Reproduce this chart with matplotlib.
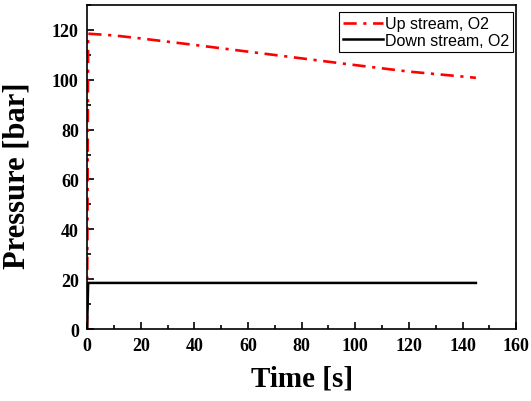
import matplotlib
matplotlib.use('Agg')
import matplotlib.pyplot as plt
from matplotlib.ticker import MultipleLocator

# Up stream pressure (O2)
t_up = [0, 0.4, 10, 20, 40, 60, 80, 100, 120, 145]
p_up = [0, 118.5, 117.8, 116.6, 114.0, 111.3, 108.6, 105.9, 103.3, 100.8]

# Down stream pressure (O2)
t_down = [0, 0.4, 145]
p_down = [0, 18.5, 18.5]

fig = plt.figure(figsize=(5.31, 4.02), dpi=100)
ax = fig.add_axes([0.164, 0.179, 0.808, 0.806])

ax.plot(t_up, p_up, color='red', linestyle=(0, (5, 2.5, 1.2, 2.5)), linewidth=1.9,
        label='Up stream, O2')
ax.plot(t_down, p_down, color='black', linewidth=1.8, label='Down stream, O2')

ax.set_xlim(0, 160)
ax.set_ylim(0, 130)
ax.xaxis.set_major_locator(MultipleLocator(20))
ax.xaxis.set_minor_locator(MultipleLocator(10))
ax.yaxis.set_major_locator(MultipleLocator(20))
ax.yaxis.set_minor_locator(MultipleLocator(10))
ax.tick_params(which='both', direction='in', width=1.2)
ax.tick_params(which='major', length=5, pad=6)
ax.tick_params(which='minor', length=3)
for s in ax.spines.values():
    s.set_linewidth(1.2)

for lab in ax.get_xticklabels() + ax.get_yticklabels():
    lab.set_fontfamily('Liberation Serif')
    lab.set_fontweight('bold')
    lab.set_fontsize(13)

ax.set_xlabel('Time [s]', fontfamily='Liberation Serif', fontweight='bold', fontsize=21)
ax.set_ylabel('Pressure [bar]', fontfamily='Liberation Serif', fontweight='bold', fontsize=22)
ax.xaxis.set_label_coords(0.5, -0.11)
ax.yaxis.set_label_coords(-0.13, 0.477)

leg = ax.legend(loc='upper right', bbox_to_anchor=(0.993, 0.978),
                prop={'family': 'Liberation Sans', 'size': 11.5},
                fancybox=False, edgecolor='black', framealpha=1, borderaxespad=0,
                handlelength=2.5, handletextpad=0.15, borderpad=0.25, labelspacing=0.1)
leg.get_frame().set_linewidth(0.8)

fig.savefig('out.png', dpi=100)
